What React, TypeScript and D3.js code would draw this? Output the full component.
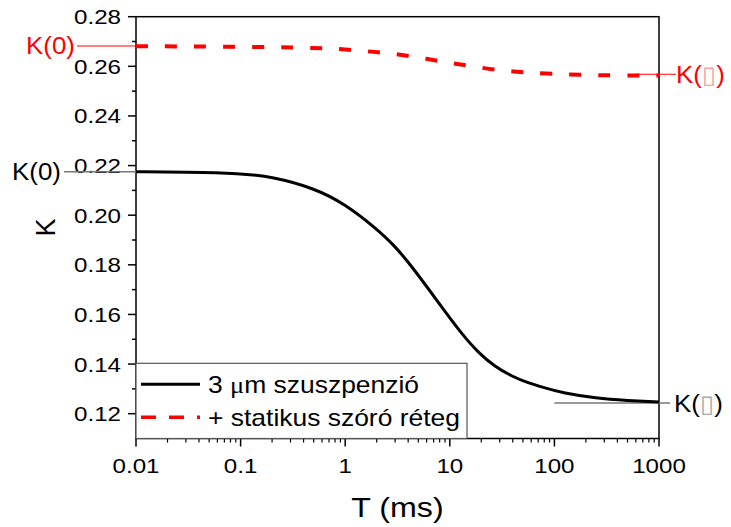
import React from 'react';
import * as d3 from 'd3';

// black curve: 3 um suspension
const T_BLACK = [0.01, 0.03, 0.1, 0.2, 0.5, 1, 2, 3, 4.3, 6.2, 9, 13, 19, 27, 39, 56, 81, 120, 250, 500, 1000];
const K_BLACK = [0.2175, 0.2174, 0.2169, 0.2155, 0.211, 0.2045, 0.1945, 0.1875, 0.1795, 0.1705, 0.1612, 0.1522, 0.1443, 0.139, 0.1351, 0.1324, 0.1304, 0.1283, 0.1262, 0.1253, 0.1247];

// red dashed curve: + static scattering layer
const T_RED = [0.01, 0.1, 0.5, 1, 2, 3.5, 6, 10, 17, 30, 54, 100, 200, 400, 1000];
const K_RED = [0.2681, 0.2679, 0.2675, 0.2669, 0.2657, 0.2647, 0.263, 0.2614, 0.2599, 0.2583, 0.2575, 0.2569, 0.2565, 0.2563, 0.2563];

// asymptote markers [K(0), K(inf)]
const K_LIMITS_BLACK = [0.2175, 0.1243];
const K_LIMITS_RED = [0.2682, 0.2568];

const Y_TICKS = [0.12, 0.14, 0.16, 0.18, 0.2, 0.22, 0.24, 0.26, 0.28];
const Y_MINOR = [0.13, 0.15, 0.17, 0.19, 0.21, 0.23, 0.25, 0.27];
const X_TICKS = [0.01, 0.1, 1, 10, 100, 1000];
const X_TICK_LABELS = ['0.01', '0.1', '1', '10', '100', '1000'];

const LEGEND = ['3 \u03bcm szuszpenzió', '+ statikus szóró réteg'];

const W = 731;
const H = 527;
const m = { left: 136, right: 659, top: 16.7, bottom: 438.5 };
const FONT = 'Liberation Sans, Arial, sans-serif';
const SX = 1.15;

const x = d3.scaleLog().domain([0.01, 1000]).range([m.left, m.right]);
const y = d3.scaleLinear().domain([0.11, 0.28]).range([m.bottom, m.top]);

const line = d3.line<[number, number]>()
  .x(d => x(d[0]))
  .y(d => y(d[1]))
  .curve(d3.curveBasis);

const Txt = ({ px, py, size, anchor = 'start', fill = '#000', sx = SX, children }: any) => (
  <text
    transform={`translate(${px},${py}) scale(${sx},1)`}
    textAnchor={anchor}
    fontFamily={FONT}
    fontSize={size}
    fill={fill}
  >
    {children}
  </text>
);

export default function App() {
  const blackPts = T_BLACK.map((t, i) => [t, K_BLACK[i]] as [number, number]);
  const redPts = T_RED.map((t, i) => [t, K_RED[i]] as [number, number]);

  // minor log ticks 2..9 in every decade
  const xMinor: number[] = [];
  X_TICKS.slice(0, -1).forEach(d => {
    for (let k = 2; k <= 9; k++) xMinor.push(d * k);
  });

  const legX = m.left;
  const legY = 363.3;
  const legW = 331;

  return (
    <svg width={W} height={H} style={{ position: 'absolute', left: 0, top: 0, background: '#fff' }}>
      <rect x={0} y={0} width={W} height={H} fill="#fff" />

      {/* frame */}
      <rect x={m.left} y={m.top} width={m.right - m.left} height={m.bottom - m.top}
        fill="none" stroke="#000" strokeWidth={1.5} />

      {/* y ticks */}
      {Y_TICKS.map(v => (
        <g key={'y' + v}>
          <line x1={m.left - 8} x2={m.left} y1={y(v)} y2={y(v)} stroke="#000" strokeWidth={1.5} />
          <Txt px={m.left - 15} py={y(v) + 7.5} size={21} anchor="end">{v.toFixed(2)}</Txt>
        </g>
      ))}
      {Y_MINOR.map(v => (
        <line key={'ym' + v} x1={m.left - 4} x2={m.left} y1={y(v)} y2={y(v)} stroke="#000" strokeWidth={1.5} />
      ))}

      {/* x ticks */}
      {X_TICKS.map((v, i) => (
        <g key={'x' + v}>
          <line x1={x(v)} x2={x(v)} y1={m.bottom} y2={m.bottom + 8} stroke="#000" strokeWidth={1.5} />
          <Txt px={x(v)} py={m.bottom + 34} size={21} anchor="middle">{X_TICK_LABELS[i]}</Txt>
        </g>
      ))}
      {xMinor.map(v => (
        <line key={'xm' + v} x1={x(v)} x2={x(v)} y1={m.bottom} y2={m.bottom + 4} stroke="#000" strokeWidth={1.2} />
      ))}

      {/* axis titles */}
      <Txt px={(m.left + m.right) / 2} py={517} size={28} anchor="middle">T (ms)</Txt>
      <text transform={`translate(55,${(m.top + m.bottom) / 2}) rotate(-90)`} textAnchor="middle"
        fontFamily={FONT} fontSize={27}>K</text>

      {/* asymptote markers */}
      <line x1={77} x2={x(0.013)} y1={y(K_LIMITS_RED[0])} y2={y(K_LIMITS_RED[0])} stroke="#f00" strokeWidth={1.2} />
      <Txt px={26} py={y(K_LIMITS_RED[0]) + 8.5} size={24} fill="#f00" sx={1.08}>K(0)</Txt>
      <line x1={x(600)} x2={676} y1={y(K_LIMITS_RED[1])} y2={y(K_LIMITS_RED[1])} stroke="#f00" strokeWidth={1.2} />
      <Txt px={676} py={y(K_LIMITS_RED[1]) + 8.5} size={24} fill="#f00" sx={1.08}>
        K(<tspan fill="#f9a0a0" fontFamily="DejaVu Sans">▯</tspan>)
      </Txt>

      <line x1={64} x2={m.left + 2} y1={y(K_LIMITS_BLACK[0])} y2={y(K_LIMITS_BLACK[0])} stroke="#777" strokeWidth={1.5} />
      <Txt px={12} py={y(K_LIMITS_BLACK[0]) + 8.5} size={24} sx={1.08}>K(0)</Txt>
      <line x1={x(100)} x2={670} y1={y(K_LIMITS_BLACK[1])} y2={y(K_LIMITS_BLACK[1])} stroke="#777" strokeWidth={1.5} />
      <Txt px={674} py={y(K_LIMITS_BLACK[1]) + 8.5} size={24} sx={1.08}>
        K(<tspan fill="#aaa" fontFamily="DejaVu Sans">▯</tspan>)
      </Txt>

      {/* curves */}
      <path d={line(redPts) || ''} fill="none" stroke="#f00" strokeWidth={4} strokeDasharray="12,17" />
      <path d={line(blackPts) || ''} fill="none" stroke="#000" strokeWidth={3} />

      {/* legend */}
      <rect x={legX} y={legY} width={legW} height={m.bottom - legY} fill="#fff" stroke="#555" strokeWidth={1.2} />
      <line x1={legX + 5} x2={legX + 64} y1={384.3} y2={384.3} stroke="#000" strokeWidth={3} />
      <line x1={legX + 5} x2={legX + 64} y1={417.3} y2={417.3} stroke="#f00" strokeWidth={3.5} strokeDasharray="15,13" />
      <Txt px={legX + 72} py={392.5} size={23}>
        3 <tspan fontFamily="Liberation Serif">μ</tspan>m szuszpenzió
      </Txt>
      <Txt px={legX + 72} py={425.5} size={23}>{LEGEND[1]}</Txt>
    </svg>
  );
}
